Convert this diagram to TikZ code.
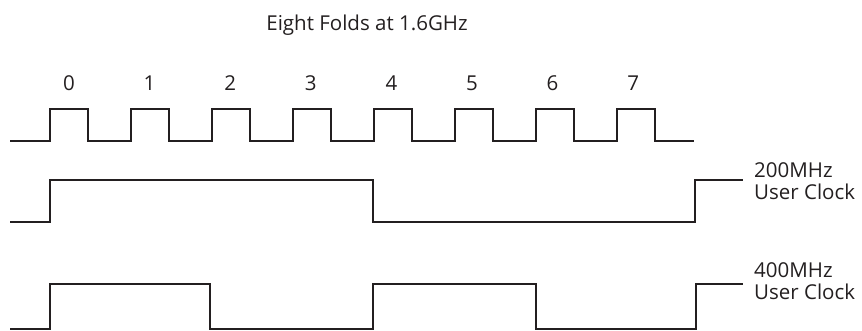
\documentclass[tikz,border=0pt]{standalone}
\usepackage{fontspec}
\setmainfont{Open Sans}
\usetikzlibrary{positioning}
\definecolor{ink}{HTML}{231F20}

\begin{document}
\begin{tikzpicture}[x=1pt, y=-1pt, font=\fontsize{20.5}{22}\selectfont,
    wave/.style={draw=ink, line width=2pt},
    lbl/.style={text=ink, inner sep=0pt},
    side/.style={lbl, align=left, anchor=west}]
    \useasboundingbox (0,0) rectangle (862,331);

    \node[lbl] (title) at (367,25) {Eight Folds at 1.6GHz};

    % 1.6GHz folds
    \foreach \k in {0,...,7}
        \node[lbl] (f\k) at ({69+80.6*\k},83) {\k};
    \path[wave] (10,141)
        foreach \k in {0,...,7} {
            -- ({50+81*\k},141) -- ({50+81*\k},109)
            -- ({88+81*\k},109) -- ({88+81*\k},141)
        } -- (694,141);

    % 200MHz user clock
    \path[wave] (10,222) -- (50,222) -- (50,180) -- (373,180)
        -- (373,222) -- (695,222) -- (695,180) -- (743,180);
    \node[side] (clkA) at (754,181) {200MHz\\User Clock};

    % 400MHz user clock
    \path[wave] (10,329) -- (50,329) -- (50,284) -- (210,284)
        -- (210,329) -- (373,329) -- (373,284) -- (536,284)
        -- (536,329) -- (696,329) -- (696,284) -- (743,284);
    \node[side] (clkB) at (754,281) {400MHz\\User Clock};
\end{tikzpicture}
\end{document}
